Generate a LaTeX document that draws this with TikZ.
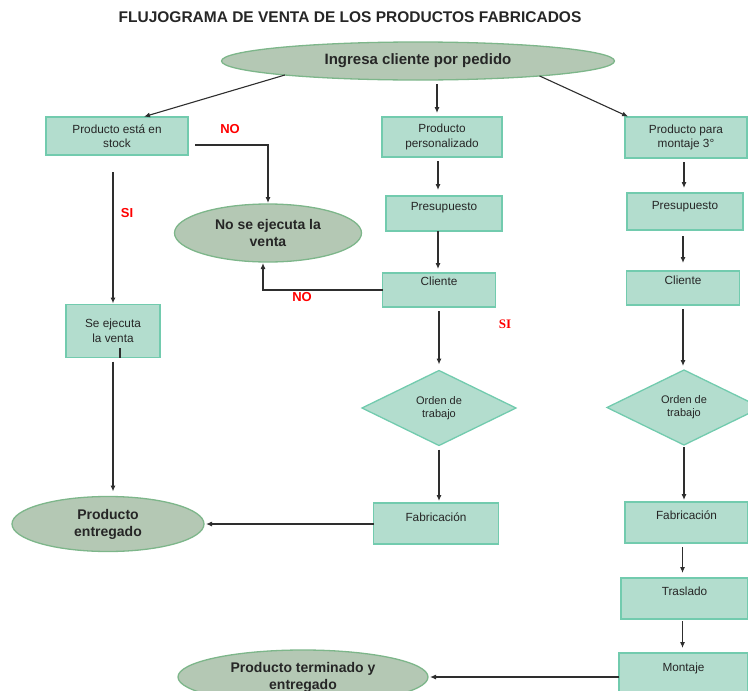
\documentclass[tikz,border=0pt]{standalone}
\usepackage{fontspec}
\setmainfont{Liberation Sans}
\newfontfamily\seriffont{Liberation Serif}
\usetikzlibrary{shapes.geometric,arrows.meta,positioning}
\definecolor{boxfill}{HTML}{B3DDCE}
\definecolor{boxline}{HTML}{72CBAE}
\definecolor{ovalfill}{HTML}{B4C8B4}
\definecolor{ovalline}{HTML}{7DB68A}
\definecolor{linegray}{HTML}{2E2E2E}

\begin{document}
\begin{tikzpicture}[x=1pt,y=-1pt,
    every node/.style={outer sep=0pt,text=black!85},
    box/.style={draw=boxline,fill=boxfill,line width=1.3pt,align=center,
      inner sep=3pt,font=\fontsize{11.8}{14.5}\selectfont},
    oval/.style={ellipse,draw=ovalline,fill=ovalfill,line width=1.3pt,
      align=center,inner sep=0pt,font=\fontsize{14}{17}\selectfont\bfseries},
    rombo/.style={diamond,draw=boxline,fill=boxfill,line width=1.3pt,
      align=center,inner sep=0pt,font=\fontsize{11}{13}\selectfont},
    conn/.style={draw=linegray,line width=1.1pt,-{Latex[length=6pt,width=5pt]},
      shorten >=4pt,shorten <=4pt},
    resp/.style={text=red,font=\fontsize{13}{15}\selectfont\bfseries}]

    \useasboundingbox (0,0) rectangle (748,691);
    \clip (0,0) rectangle (748,691);

    % titulo y entrada
    \node[font=\fontsize{15.5}{18}\selectfont\bfseries] (titulo) at (350,17)
      {FLUJOGRAMA DE VENTA DE LOS PRODUCTOS FABRICADOS};
    \node[oval,minimum width=393,minimum height=38,font=\fontsize{15}{18}\selectfont\bfseries]
      (ingresa) at (418,61) {Ingresa cliente por pedido};

    % rama stock
    \node[box,minimum width=142,minimum height=38] (stock) at (117,136)
      {Producto está en\\stock};
    \node[oval,minimum width=187,minimum height=58] (noejec) at (268,233)
      {No se ejecuta la\\venta};
    \node[box,minimum width=94,minimum height=53] (seejec) at (113,331)
      {Se ejecuta\\la venta};
    \node[oval,minimum width=192,minimum height=55] (entreg) at (108,524)
      {Producto\\entregado};

    % rama personalizado
    \node[box,minimum width=120,minimum height=40] (perso) at (442,137)
      {Producto\\personalizado};
    \node[box,minimum width=116,text height=11.2pt,text depth=17.8pt] (pres1) at (444,213.5)
      {Presupuesto};
    \node[box,minimum width=113,text height=9.2pt,text depth=18.8pt] (cli1) at (439,290)
      {Cliente};
    \node[rombo,minimum width=154,minimum height=75] (ord1) at (439,408)
      {Orden de\\trabajo};
    \node[box,minimum width=125,text height=15.2pt,text depth=19.8pt] (fab1) at (436,523.5)
      {Fabricación};

    % rama montaje
    \node[box,minimum width=122,minimum height=41] (mont3) at (686,137.5)
      {Producto para\\montaje 3°};
    \node[box,minimum width=116,text height=13.2pt,text depth=17.8pt] (pres2) at (685,211.5)
      {Presupuesto};
    \node[box,minimum width=113,text height=10.2pt,text depth=17.8pt] (cli2) at (683,288)
      {Cliente};
    \node[rombo,minimum width=154,minimum height=75] (ord2) at (684,407.5)
      {Orden de\\trabajo};
    \node[box,minimum width=123,text height=14.2pt,text depth=20.8pt] (fab2) at (686.5,522.5)
      {Fabricación};
    \node[box,minimum width=127,text height=14.2pt,text depth=20.8pt] (tras) at (684.5,598.5)
      {Traslado};
    \node[box,minimum width=129,text height=15.2pt,text depth=19.8pt] (montaje) at (683.5,673.5)
      {Montaje};
    \node[oval,minimum width=250,minimum height=54] (termin) at (303,677)
      {Producto terminado y\\entregado};

    % conectores
    \draw[conn,shorten <=0pt,shorten >=1pt] (ingresa.186) -- ([xshift=26pt]stock.north);
    \draw[conn] ([xshift=-5pt]perso.north |- ingresa.south) -- ([xshift=-5pt]perso.north);
    \draw[conn,shorten <=0pt,shorten >=1pt] (ingresa.353) -- ([xshift=4pt]mont3.north west);

    \draw[conn,shorten <=7pt,shorten >=1pt] ([yshift=-9pt]stock.east) -| (noejec.north);
    \draw[conn,shorten <=17pt,shorten >=1pt] (stock.south -| seejec.north) -- (seejec.north);
    \draw[linegray,line width=1.1pt] ([xshift=7pt]seejec.south) -- ++(0,-10);
    \draw[conn,shorten >=5pt] (seejec.south) -- (seejec.south |- entreg.north);

    \draw[conn,shorten >=6pt] ([xshift=-4pt]perso.south) -- ([xshift=-4pt]perso.south |- pres1.north);
    \draw[conn,shorten <=0pt] ([xshift=-6pt]pres1.south) -- ([xshift=-6pt]pres1.south |- cli1.north);
    \draw[conn,shorten >=6pt] (cli1.south) -- (ord1.north);
    \draw[conn,shorten >=2pt] (ord1.south) -- (ord1.south |- fab1.north);
    \draw[conn,shorten <=0pt,shorten >=1pt] (cli1.west) -| ([xshift=-5pt]noejec.south);
    \draw[conn,shorten <=0pt,shorten >=2pt] (fab1.west |- entreg.east) -- (entreg.east);

    \draw[conn,shorten >=5pt] ([xshift=-2pt]mont3.south) -- ([xshift=-2pt]mont3.south |- pres2.north);
    \draw[conn,shorten <=6pt,shorten >=8pt] ([xshift=-2pt]pres2.south) -- ([xshift=-2pt]pres2.south |- cli2.north);
    \draw[conn] (cli2.south) -- (cli2.south |- ord2.north);
    \draw[conn,shorten <=2pt,shorten >=2pt] (ord2.south) -- (ord2.south |- fab2.north);
    \draw[conn,shorten >=5pt] ([xshift=-4pt]fab2.south) -- ([xshift=-4pt]fab2.south |- tras.north);
    \draw[conn,shorten <=2pt,shorten >=5pt] ([xshift=-2pt]tras.south) -- ([xshift=-2pt]tras.south |- montaje.north);
    \draw[conn,shorten <=0pt,shorten >=2pt] (montaje.west |- termin.east) -- (termin.east);

    % respuestas
    \node[resp] (no1) at (230,129) {NO};
    \node[resp] (si1) at (127,213) {SI};
    \node[resp] (no2) at (302,297) {NO};
    \node[resp,font=\fontsize{13}{15}\selectfont\seriffont\bfseries] (si2) at (505,324) {SI};
\end{tikzpicture}
\end{document}
